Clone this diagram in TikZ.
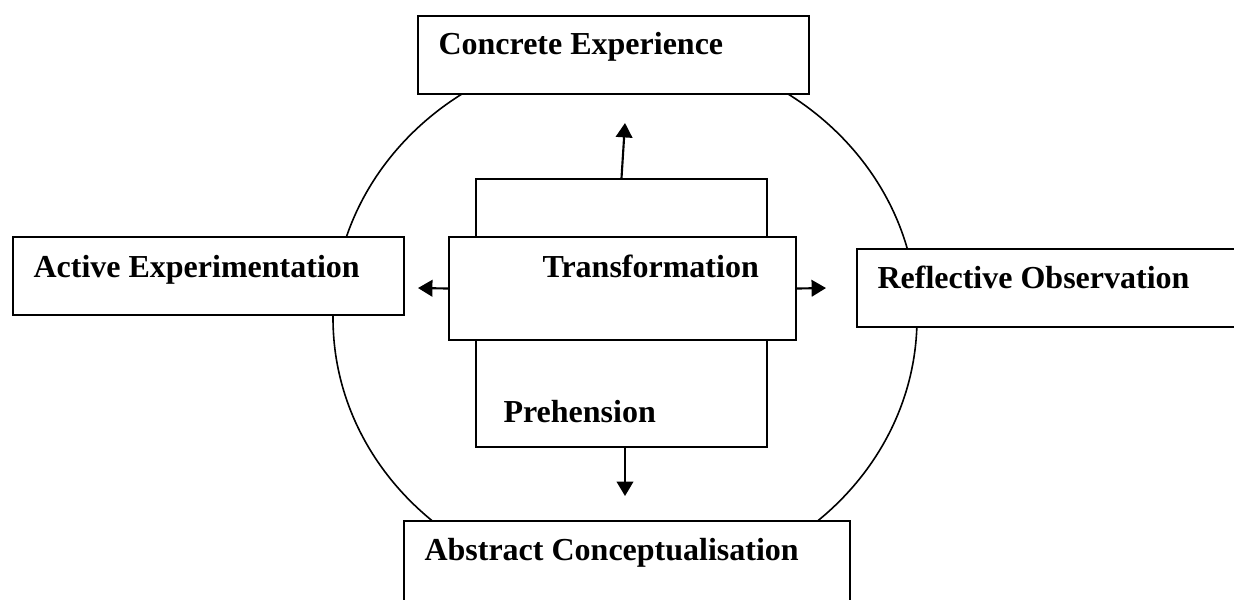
\documentclass[tikz,border=0pt]{standalone}
\usepackage{fontspec}
\setmainfont{Liberation Serif}
\usetikzlibrary{arrows.meta}
\newcommand{\pxu}{0.375pt}
\tikzset{
  stagebox/.style={draw, fill=white, line width=0.75pt, inner sep=0pt, anchor=north west},
  stagelabel/.style={anchor=base west, inner sep=0pt, font=\fontsize{12pt}{14pt}\selectfont\bfseries},
  flow/.style={line width=0.8pt, -{Triangle[length=5.4pt,width=6.2pt]}}
}
\begin{document}
\begin{tikzpicture}[x=\pxu, y=-\pxu]
        \clip (0,0) rectangle (1234,599);
        \fill[white] (0,0) rectangle (1234,599);
        % the cycle
        \draw[line width=0.6pt] (625,318) ellipse [x radius=292, y radius=270];
        % four stages
        \node[stagebox, minimum width=391*\pxu, minimum height=78*\pxu] (ce) at (417,15) {};
        \node[stagebox, minimum width=391*\pxu, minimum height=78*\pxu] (ae) at (12,236) {};
        \node[stagebox, minimum width=394*\pxu, minimum height=78*\pxu] (ro) at (856,248) {};
        \node[stagebox, minimum width=446*\pxu, minimum height=100*\pxu] (ac) at (403,520) {};
        \node[stagelabel] (ceText) at (438,54) {Concrete Experience};
        \node[stagelabel] (aeText) at (33,277) {Active Experimentation};
        \node[stagelabel] (roText) at (877,288) {Reflective Observation};
        \node[stagelabel] (acText) at (424,560) {Abstract Conceptualisation};
        % the two dimensions in the middle
        \node[stagebox, minimum width=291*\pxu, minimum height=268*\pxu] (ph) at (475,178) {};
        \node[stagebox, minimum width=347*\pxu, minimum height=103*\pxu] (tf) at (448,236) {};
        \node[stagelabel] (tfText) at (542,277) {Transformation};
        \node[stagelabel] (phText) at (503,422) {Prehension};
        % arrows
        \coordinate (ceTip) at (625,123);
        \coordinate (acTip) at (625,496);
        \coordinate (aeTip) at (418,288);
        \coordinate (roTip) at (826,288);
        \draw[flow] (ph.north) -- (ceTip);
        \draw[flow] (ph.south -| acTip) -- (acTip);
        \draw[flow] (tf.west) -- (aeTip);
        \draw[flow] (tf.east) -- (roTip);
      \end{tikzpicture}
\end{document}
